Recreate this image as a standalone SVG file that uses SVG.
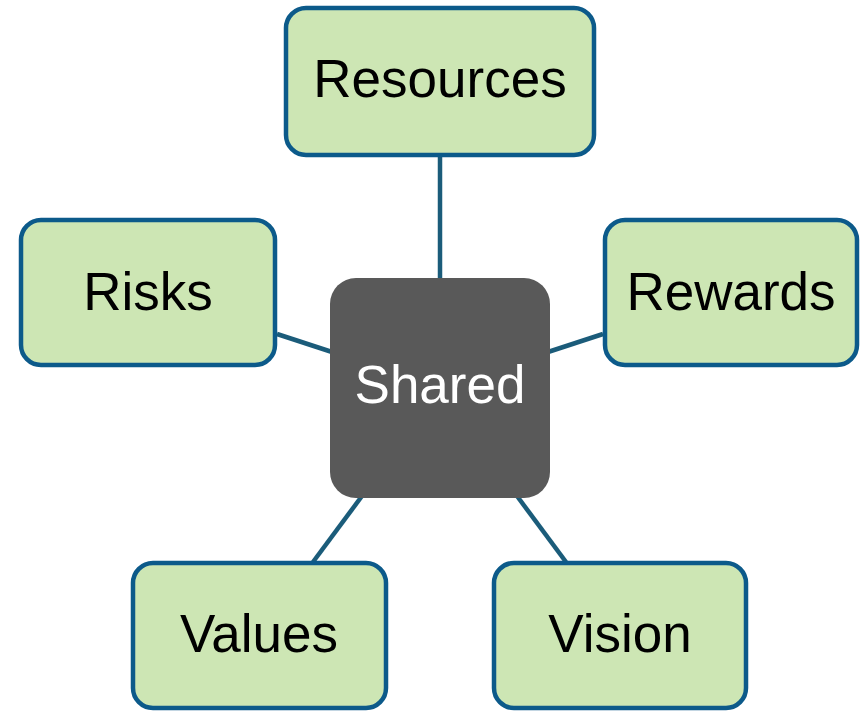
<svg xmlns="http://www.w3.org/2000/svg" width="862" height="711" viewBox="0 0 862 711">
<style>
.box{fill:#CDE6B4;stroke:#0C5A8A;stroke-width:4.5}
.lbl{font-family:"Liberation Sans",Arial,sans-serif;font-size:53px;fill:#000;text-anchor:middle}
.conn line{stroke:#1B5C7A;stroke-width:4.5}
</style>
<rect width="862" height="711" fill="#fff"/>
<g id="connectors" class="conn">
<line x1="440" y1="155" x2="440" y2="280"/>
<line x1="277" y1="334" x2="332" y2="352"/>
<line x1="548" y1="352" x2="603" y2="334"/>
<line x1="362" y1="496" x2="313" y2="562"/>
<line x1="517" y1="496" x2="566" y2="562"/>
</g>
<g id="resources"><rect class="box" x="286" y="8" width="308" height="147" rx="20"/><text class="lbl" x="440" y="97">Resources</text></g>
<g id="risks"><rect class="box" x="21" y="220" width="254" height="145" rx="20"/><text class="lbl" x="148" y="310">Risks</text></g>
<g id="rewards"><rect class="box" x="605" y="220" width="252" height="145" rx="20"/><text class="lbl" x="731" y="310">Rewards</text></g>
<g id="values"><rect class="box" x="133" y="563" width="253" height="145" rx="20"/><text class="lbl" x="259" y="652">Values</text></g>
<g id="vision"><rect class="box" x="494" y="563" width="252" height="145" rx="20"/><text class="lbl" x="620" y="652">Vision</text></g>
<g id="shared"><rect x="330" y="278" width="220" height="220" rx="26" fill="#595959"/><text class="lbl" x="440" y="403" style="fill:#fff">Shared</text></g>
</svg>
